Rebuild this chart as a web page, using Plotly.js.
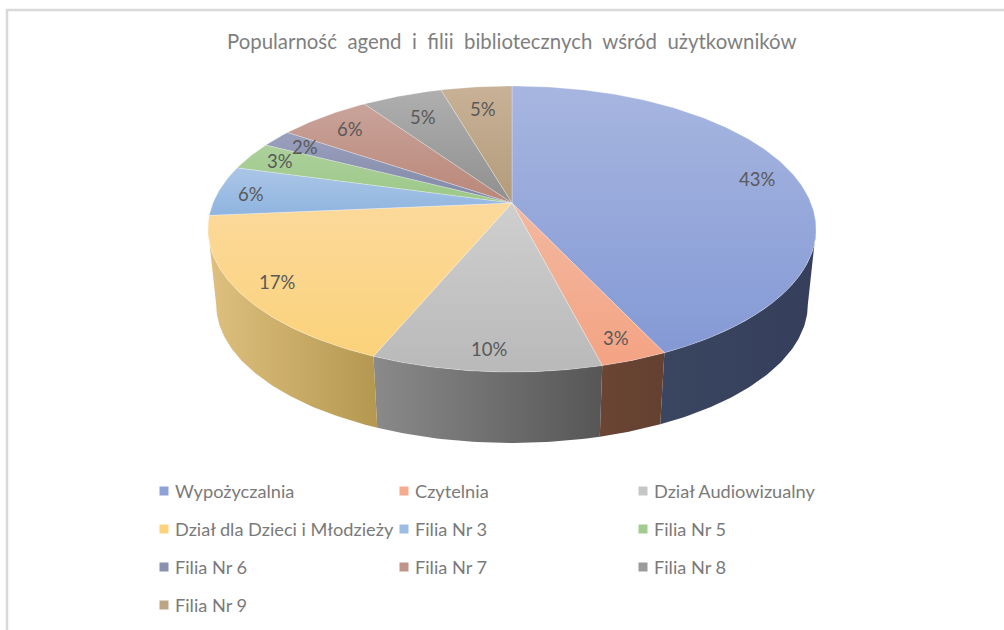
<!DOCTYPE html>
<html>
<head>
<meta charset="utf-8">
<script src="https://cdn.plot.ly/plotly-3.0.1.min.js"></script>
<style>html,body{margin:0;padding:0;background:#fff;overflow:hidden}</style>
</head>
<body>
<div id="chart" style="width:1004px;height:630px"></div>
<script>
// Data
const categories = ["Wypożyczalnia","Czytelnia","Dział Audiowizualny","Dział dla Dzieci i Młodzieży","Filia Nr 3","Filia Nr 5","Filia Nr 6","Filia Nr 7","Filia Nr 8","Filia Nr 9"];
const shares = [43.0,3.0,10.3,17.3,5.7,3.2,2.0,5.9,5.1,4.5];

// Styles
const topLight = ["#A7B6E0","#F2B8A0","#CFCFCF","#FBD99B","#ABC6E6","#ACD09B","#9AA0BC","#C9A39A","#AFAFAF","#C8B196"];
const topDeep  = ["#8499D5","#F4A383","#B9B9B9","#FBD27A","#8FB4E0","#9CC888","#8088A8","#B98778","#8F8F8F","#B39C7B"];
const sideLeft  = ["#3A4560","#6B4534","#8A8A8A","#DFC07F"];
const sideRight = ["#353F5B","#634030","#565656","#B49850"];
const swatch = ["#8FA2D8","#F4AB8E","#C6C6C6","#FDD27F","#9DBDE3","#A2CB8F","#8B92AF","#C09488","#9B9B9B","#BCA585"];
const titleText = "Popularność  agend  i  filii  bibliotecznych  wśród  użytkowników".replace(/  /g, "\u00A0\u00A0");

// Pie projection (perspective view of a tilted disc), in plot units
const apexX = 512, apexY = 203, scaleX = 299, scaleY = 138.3, persp = 0.1818;
const depthX = 0.973, depthY = 0.97, depthShift = 76;
const labelRadius = 0.86;
const labelNudgeX = [2,2,-1,-6,-9,-5,-2,2,8,2];
const labelNudgeY = [1,4,5,2,2,-1,0,2,8,8];
const rad = d => d * Math.PI / 180;
function topPt(theta, r) {
  const u = Math.sin(rad(theta)) * r, v = -Math.cos(rad(theta)) * r;
  const s = 1 / (1 - persp * v);
  return [apexX + scaleX * u * s, apexY + scaleY * v * s];
}
function botPt(theta) {
  const p = topPt(theta, 1);
  return [apexX + (p[0] - apexX) * depthX, apexY + (p[1] - apexY) * depthY + depthShift];
}
function arc(a, b, fn) {
  const n = Math.max(2, Math.ceil(Math.abs(b - a) / 0.75));
  const out = [];
  for (let i = 0; i <= n; i++) out.push(fn(a + (b - a) * i / n));
  return out;
}

const total = shares.reduce((a, b) => a + b, 0);
let acc = 0;
const slices = shares.map(v => { const s = {a: acc / total * 360, b: (acc + v) / total * 360}; acc += v; return s; });

const traces = [];
const frontA = Math.acos(-persp) * 180 / Math.PI, frontB = 360 - frontA;

// Side walls, only where they face the viewer
slices.forEach((s, i) => {
  const a = Math.max(s.a, frontA), b = Math.min(s.b, frontB);
  if (b <= a) return;
  const pts = arc(a, b, t => topPt(t, 1)).concat(arc(b, a, botPt));
  pts.push(pts[0]);
  traces.push({
    type: "scatter", mode: "lines", x: pts.map(p => p[0]), y: pts.map(p => p[1]),
    fill: "toself", line: {width: 0, color: sideRight[i]},
    fillgradient: {type: "horizontal", colorscale: [[0, sideLeft[i]], [1, sideRight[i]]]},
    hoverinfo: "skip", showlegend: false
  });
});

// Top faces
slices.forEach((s, i) => {
  const pts = [[apexX, apexY]].concat(arc(s.a, s.b, t => topPt(t, 1)));
  pts.push(pts[0]);
  traces.push({
    type: "scatter", mode: "lines", x: pts.map(p => p[0]), y: pts.map(p => p[1]),
    fill: "toself", line: {width: 0.6, color: "rgba(255,255,255,0.45)"},
    fillgradient: {type: "vertical", colorscale: [[0, topDeep[i]], [1, topLight[i]]]},
    name: categories[i], text: categories[i], hoverinfo: "text", showlegend: false
  });
});

// Legend layout
const legendCols = [164, 404, 643], legendRows = [491, 529, 567, 605];
const legX = categories.map((c, i) => legendCols[i % 3]);
const legY = categories.map((c, i) => legendRows[Math.floor(i / 3)]);
traces.push({
  type: "scatter", mode: "markers", x: legX, y: legY,
  marker: {symbol: "square", size: 9, color: swatch}, hoverinfo: "skip", showlegend: false
});

const annotations = [];
slices.forEach((s, i) => {
  const p = topPt((s.a + s.b) / 2, labelRadius);
  annotations.push({x: p[0] + labelNudgeX[i], y: p[1] + labelNudgeY[i], xref: "x", yref: "y", showarrow: false,
    text: Math.round(shares[i] / total * 100) + "%", font: {family: "Lato, sans-serif", size: 18.5, color: "#595959"}});
  annotations.push({x: legX[i] + 9, y: legY[i], xref: "x", yref: "y", xanchor: "left", showarrow: false,
    text: categories[i], font: {family: "Lato, sans-serif", size: 18.2, color: "#7a7a7a"}});
});
annotations.push({x: 512, y: 41, xref: "x", yref: "y", showarrow: false, text: titleText,
  font: {family: "Lato, sans-serif", size: 20.4, color: "#7f7f7f"}});

const layout = {
  width: 1004, height: 630, margin: {l: 0, r: 0, t: 0, b: 0},
  paper_bgcolor: "#fff", plot_bgcolor: "#fff", showlegend: false,
  xaxis: {range: [0, 1004], visible: false, fixedrange: true},
  yaxis: {range: [630, 0], visible: false, fixedrange: true},
  annotations,
  shapes: [
    {type: "line", xref: "x", yref: "y", x0: 6, x1: 1004, y0: 10, y1: 10, line: {color: "#d9d9d9", width: 2.5}},
    {type: "line", xref: "x", yref: "y", x0: 7, x1: 7, y0: 9, y1: 630, line: {color: "#d9d9d9", width: 2.5}}
  ]
};
Plotly.newPlot("chart", traces, layout, {displayModeBar: false, staticPlot: false});
</script>
</body>
</html>
